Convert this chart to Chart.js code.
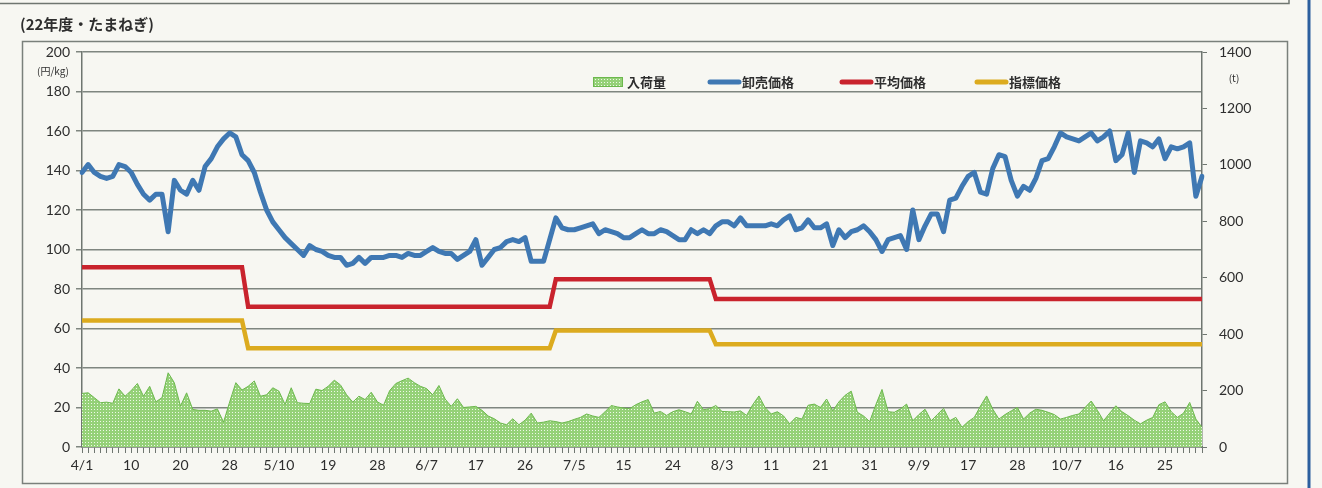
<!DOCTYPE html>
<html>
<head>
<meta charset="utf-8">
<script src="https://cdn.jsdelivr.net/npm/chart.js@4.4.0/dist/chart.umd.min.js"></script>
<style>
  html, body { margin: 0; padding: 0; background: #f7f7f2; }
  #wrap { width: 1322px; height: 488px; }
</style>
</head>
<body>
<div id="wrap"><canvas id="onionChart" width="1322" height="488"></canvas></div>
<script>
// x-axis labels, one every 8 market days
const tickLabels = ['4/1', '10', '20', '28', '5/10', '19', '28', '6/7', '17', '26', '7/5', '15', '24',
    '8/3', '11', '21', '31', '9/9', '17', '28', '10/7', '16', '25'];

// 卸売価格 (円/kg)
const wholesalePrice = [
    139, 143, 139, 137, 136, 137, 143, 142, 139, 133,
    128, 125, 128, 128, 109, 135, 130, 128, 135, 130,
    142, 146, 152, 156, 159, 157, 148, 145, 139, 129,
    120, 114, 110, 106, 103, 100, 97, 102, 100, 99,
    97, 96, 96, 92, 93, 96, 93, 96, 96, 96,
    97, 97, 96, 98, 97, 97, 99, 101, 99, 98,
    98, 95, 97, 99, 105, 92, 96, 100, 101, 104,
    105, 104, 106, 94, 94, 94, 105, 116, 111, 110,
    110, 111, 112, 113, 108, 110, 109, 108, 106, 106,
    108, 110, 108, 108, 110, 109, 107, 105, 105, 110,
    108, 110, 108, 112, 114, 114, 112, 116, 112, 112,
    112, 112, 113, 112, 115, 117, 110, 111, 115, 111,
    111, 113, 102, 110, 106, 109, 110, 112, 109, 105,
    99, 105, 106, 107, 100, 120, 105, 112, 118, 118,
    109, 125, 126, 132, 137, 139, 129, 128, 141, 148,
    147, 135, 127, 132, 130, 136, 145, 146, 152, 159,
    157, 156, 155, 157, 159, 155, 157, 160, 145, 148,
    159, 139, 155, 154, 152, 156, 146, 152, 151, 152,
    154, 127, 137
];

// 平均価格 (円/kg)
const averagePrice = [
    91, 91, 91, 91, 91, 91, 91, 91, 91, 91, 91, 91, 91, 91, 91, 91, 91, 91, 91, 91,
    91, 91, 91, 91, 91, 91, 91,
    71, 71, 71, 71, 71, 71, 71, 71, 71, 71, 71, 71, 71, 71, 71, 71, 71, 71, 71, 71,
    71, 71, 71, 71, 71, 71, 71, 71, 71, 71, 71, 71, 71, 71, 71, 71, 71, 71, 71, 71,
    71, 71, 71, 71, 71, 71, 71, 71, 71, 71,
    85, 85, 85, 85, 85, 85, 85, 85, 85, 85, 85, 85, 85, 85, 85, 85, 85, 85, 85, 85,
    85, 85, 85, 85, 85, 85,
    75, 75, 75, 75, 75, 75, 75, 75, 75, 75, 75, 75, 75, 75, 75, 75, 75, 75, 75, 75,
    75, 75, 75, 75, 75, 75, 75, 75, 75, 75, 75, 75, 75, 75, 75, 75, 75, 75, 75, 75,
    75, 75, 75, 75, 75, 75, 75, 75, 75, 75, 75, 75, 75, 75, 75, 75, 75, 75, 75, 75,
    75, 75, 75, 75, 75, 75, 75, 75, 75, 75, 75, 75, 75, 75, 75, 75, 75, 75, 75, 75
];

// 指標価格 (円/kg)
const indexPrice = [
    64, 64, 64, 64, 64, 64, 64, 64, 64, 64, 64, 64, 64, 64, 64, 64, 64, 64, 64, 64,
    64, 64, 64, 64, 64, 64, 64,
    50, 50, 50, 50, 50, 50, 50, 50, 50, 50, 50, 50, 50, 50, 50, 50, 50, 50, 50, 50,
    50, 50, 50, 50, 50, 50, 50, 50, 50, 50, 50, 50, 50, 50, 50, 50, 50, 50, 50, 50,
    50, 50, 50, 50, 50, 50, 50, 50, 50, 50,
    59, 59, 59, 59, 59, 59, 59, 59, 59, 59, 59, 59, 59, 59, 59, 59, 59, 59, 59, 59,
    59, 59, 59, 59, 59, 59,
    52, 52, 52, 52, 52, 52, 52, 52, 52, 52, 52, 52, 52, 52, 52, 52, 52, 52, 52, 52,
    52, 52, 52, 52, 52, 52, 52, 52, 52, 52, 52, 52, 52, 52, 52, 52, 52, 52, 52, 52,
    52, 52, 52, 52, 52, 52, 52, 52, 52, 52, 52, 52, 52, 52, 52, 52, 52, 52, 52, 52,
    52, 52, 52, 52, 52, 52, 52, 52, 52, 52, 52, 52, 52, 52, 52, 52, 52, 52, 52, 52
];

// 入荷量 (t)
const arrivals = [
    190, 192, 175, 157, 159, 155, 206, 180, 200, 225,
    180, 215, 160, 175, 263, 228, 145, 192, 133, 130,
    130, 127, 135, 88, 160, 228, 202, 215, 234, 180,
    185, 210, 198, 151, 210, 157, 155, 154, 205, 200,
    215, 237, 220, 185, 159, 180, 168, 194, 160, 148,
    200, 225, 235, 244, 228, 215, 207, 185, 218, 170,
    144, 171, 140, 142, 144, 130, 110, 100, 85, 79,
    100, 79, 95, 120, 85, 88, 93, 90, 85, 90,
    98, 105, 117, 110, 105, 125, 147, 142, 138, 136,
    150, 160, 168, 120, 126, 112, 125, 132, 125, 117,
    162, 132, 136, 147, 126, 125, 124, 128, 112, 150,
    181, 140, 117, 125, 110, 82, 105, 99, 148, 152,
    140, 170, 128, 160, 183, 198, 123, 110, 90, 150,
    204, 125, 123, 135, 152, 93, 115, 134, 93, 115,
    137, 93, 105, 70, 90, 105, 145, 181, 134, 99,
    115, 128, 140, 99, 120, 134, 130, 123, 115, 99,
    105, 112, 117, 140, 163, 130, 93, 120, 146, 125,
    111, 95, 82, 95, 105, 150, 160, 125, 105, 120,
    158, 99, 70
];

// one category per market day, labelled every 8th day
const categories = wholesalePrice.map((v, i) => (i % 8 === 0 && tickLabels[i / 8]) ? tickLabels[i / 8] : '');

const BLUE = '#3f78b3';
const RED = '#c9232d';
const YELLOW = '#dcab1f';
const GREEN_LINE = '#6cb84d';
const AXIS = '#6f7670';
const TEXT = '#2e2e2e';

function dotPattern(ctx) {
    const c = document.createElement('canvas');
    c.width = 3;
    c.height = 3;
    const g = c.getContext('2d');
    g.fillStyle = '#95d178';
    g.fillRect(0, 0, 3, 3);
    g.fillStyle = '#eef8e8';
    g.fillRect(1, 1, 1, 1);
    return ctx.createPattern(c, 'repeat');
}

const ctx = document.getElementById('onionChart').getContext('2d');
const greenFill = dotPattern(ctx);

Chart.defaults.font.family = 'Lato, "Noto Sans CJK JP", sans-serif';
Chart.defaults.color = TEXT;

const decor = {
    id: 'decor',
    beforeDraw(chart) {
        const c = chart.ctx;
        c.save();
        c.fillStyle = '#f7f7f2';
        c.fillRect(0, 0, chart.width, chart.height);
        // edges of the scanned page
        c.strokeStyle = '#6f7670';
        c.lineWidth = 1.5;
        c.beginPath();
        c.moveTo(0, 3.5);
        c.lineTo(1289, 3.5);
        c.lineTo(1289, 0);
        c.stroke();
        c.strokeStyle = '#2c5f9e';
        c.lineWidth = 3;
        c.beginPath();
        c.moveTo(1309, 0);
        c.lineTo(1309, 488);
        c.stroke();
        // panel frame
        c.strokeStyle = '#7a807b';
        c.lineWidth = 1.5;
        c.strokeRect(22.5, 41.5, 1265, 442);
        // title and units
        c.fillStyle = TEXT;
        c.textBaseline = 'middle';
        c.textAlign = 'left';
        c.font = 'bold 15px "Noto Sans CJK JP"';
        c.fillText('(22年度・たまねぎ)', 20, 24);
        c.font = '10px "Noto Sans CJK JP"';
        c.textAlign = 'center';
        c.fillText('(円/kg)', 53, 71);
        c.fillText('(t)', 1234, 78);
        c.restore();
    },
    afterDraw(chart) {
        const c = chart.ctx;
        const items = [
            { x: 593, label: '入荷量', kind: 'box' },
            { x: 708, label: '卸売価格', color: BLUE },
            { x: 840, label: '平均価格', color: RED },
            { x: 975, label: '指標価格', color: YELLOW }
        ];
        const y = 82;
        c.save();
        c.font = 'bold 13px "Noto Sans CJK JP"';
        c.textBaseline = 'middle';
        c.textAlign = 'left';
        items.forEach(it => {
            if (it.kind === 'box') {
                c.fillStyle = greenFill;
                c.fillRect(it.x, y - 5, 30, 10);
                c.strokeStyle = GREEN_LINE;
                c.lineWidth = 1;
                c.strokeRect(it.x + 0.5, y - 4.5, 29, 9);
            } else {
                c.strokeStyle = it.color;
                c.lineWidth = 5;
                c.lineCap = 'round';
                c.beginPath();
                c.moveTo(it.x + 2, y);
                c.lineTo(it.x + 31, y);
                c.stroke();
            }
            c.fillStyle = TEXT;
            c.fillText(it.label, it.x + 34, y);
        });
        c.restore();
    }
};

new Chart(ctx, {
    type: 'line',
    data: {
        labels: categories,
        datasets: [{
            label: '入荷量',
            data: arrivals,
            yAxisID: 'y2',
            borderColor: GREEN_LINE,
            borderWidth: 1,
            backgroundColor: greenFill,
            fill: 'origin',
            pointRadius: 0,
            tension: 0,
            order: 4
        }, {
            label: '指標価格',
            data: indexPrice,
            yAxisID: 'y',
            borderColor: YELLOW,
            borderWidth: 4.5,
            pointRadius: 0,
            tension: 0,
            fill: false,
            order: 3
        }, {
            label: '平均価格',
            data: averagePrice,
            yAxisID: 'y',
            borderColor: RED,
            borderWidth: 4.5,
            pointRadius: 0,
            tension: 0,
            fill: false,
            order: 2
        }, {
            label: '卸売価格',
            data: wholesalePrice,
            yAxisID: 'y',
            borderColor: BLUE,
            borderWidth: 5,
            borderJoinStyle: 'round',
            borderCapStyle: 'round',
            pointRadius: 0,
            tension: 0,
            fill: false,
            order: 1
        }]
    },
    options: {
        responsive: false,
        animation: false,
        layout: { padding: { top: 52, left: 0, right: 0, bottom: 0 } },
        plugins: {
            legend: { display: false },
            tooltip: { enabled: false }
        },
        scales: {
            x: {
                offset: false,
                grid: { drawOnChartArea: false, tickLength: 6, color: AXIS, lineWidth: 1 },
                border: { color: AXIS, width: 1.5 },
                ticks: {
                    autoSkip: false,
                    maxRotation: 0,
                    minRotation: 0,
                    padding: 4,
                    color: TEXT,
                    font: { size: 14 },
                    callback: (v, i) => categories[i]
                },
                afterFit: s => { s.height = 41; }
            },
            y: {
                position: 'left',
                min: 0,
                max: 200,
                ticks: { stepSize: 20, padding: 6, color: TEXT, font: { size: 14 } },
                grid: { color: '#7f8680', lineWidth: 1.5, tickLength: 6 },
                border: { color: AXIS, width: 1.5 },
                afterFit: s => { s.width = 82; }
            },
            y2: {
                position: 'right',
                min: 0,
                max: 1400,
                ticks: {
                    stepSize: 200,
                    padding: 12,
                    color: TEXT,
                    font: { size: 14 },
                    format: { useGrouping: false }
                },
                grid: { drawOnChartArea: false, tickLength: 5, color: AXIS },
                border: { color: AXIS, width: 1.5 },
                afterFit: s => { s.width = 120; }
            }
        }
    },
    plugins: [decor]
});
</script>
</body>
</html>
